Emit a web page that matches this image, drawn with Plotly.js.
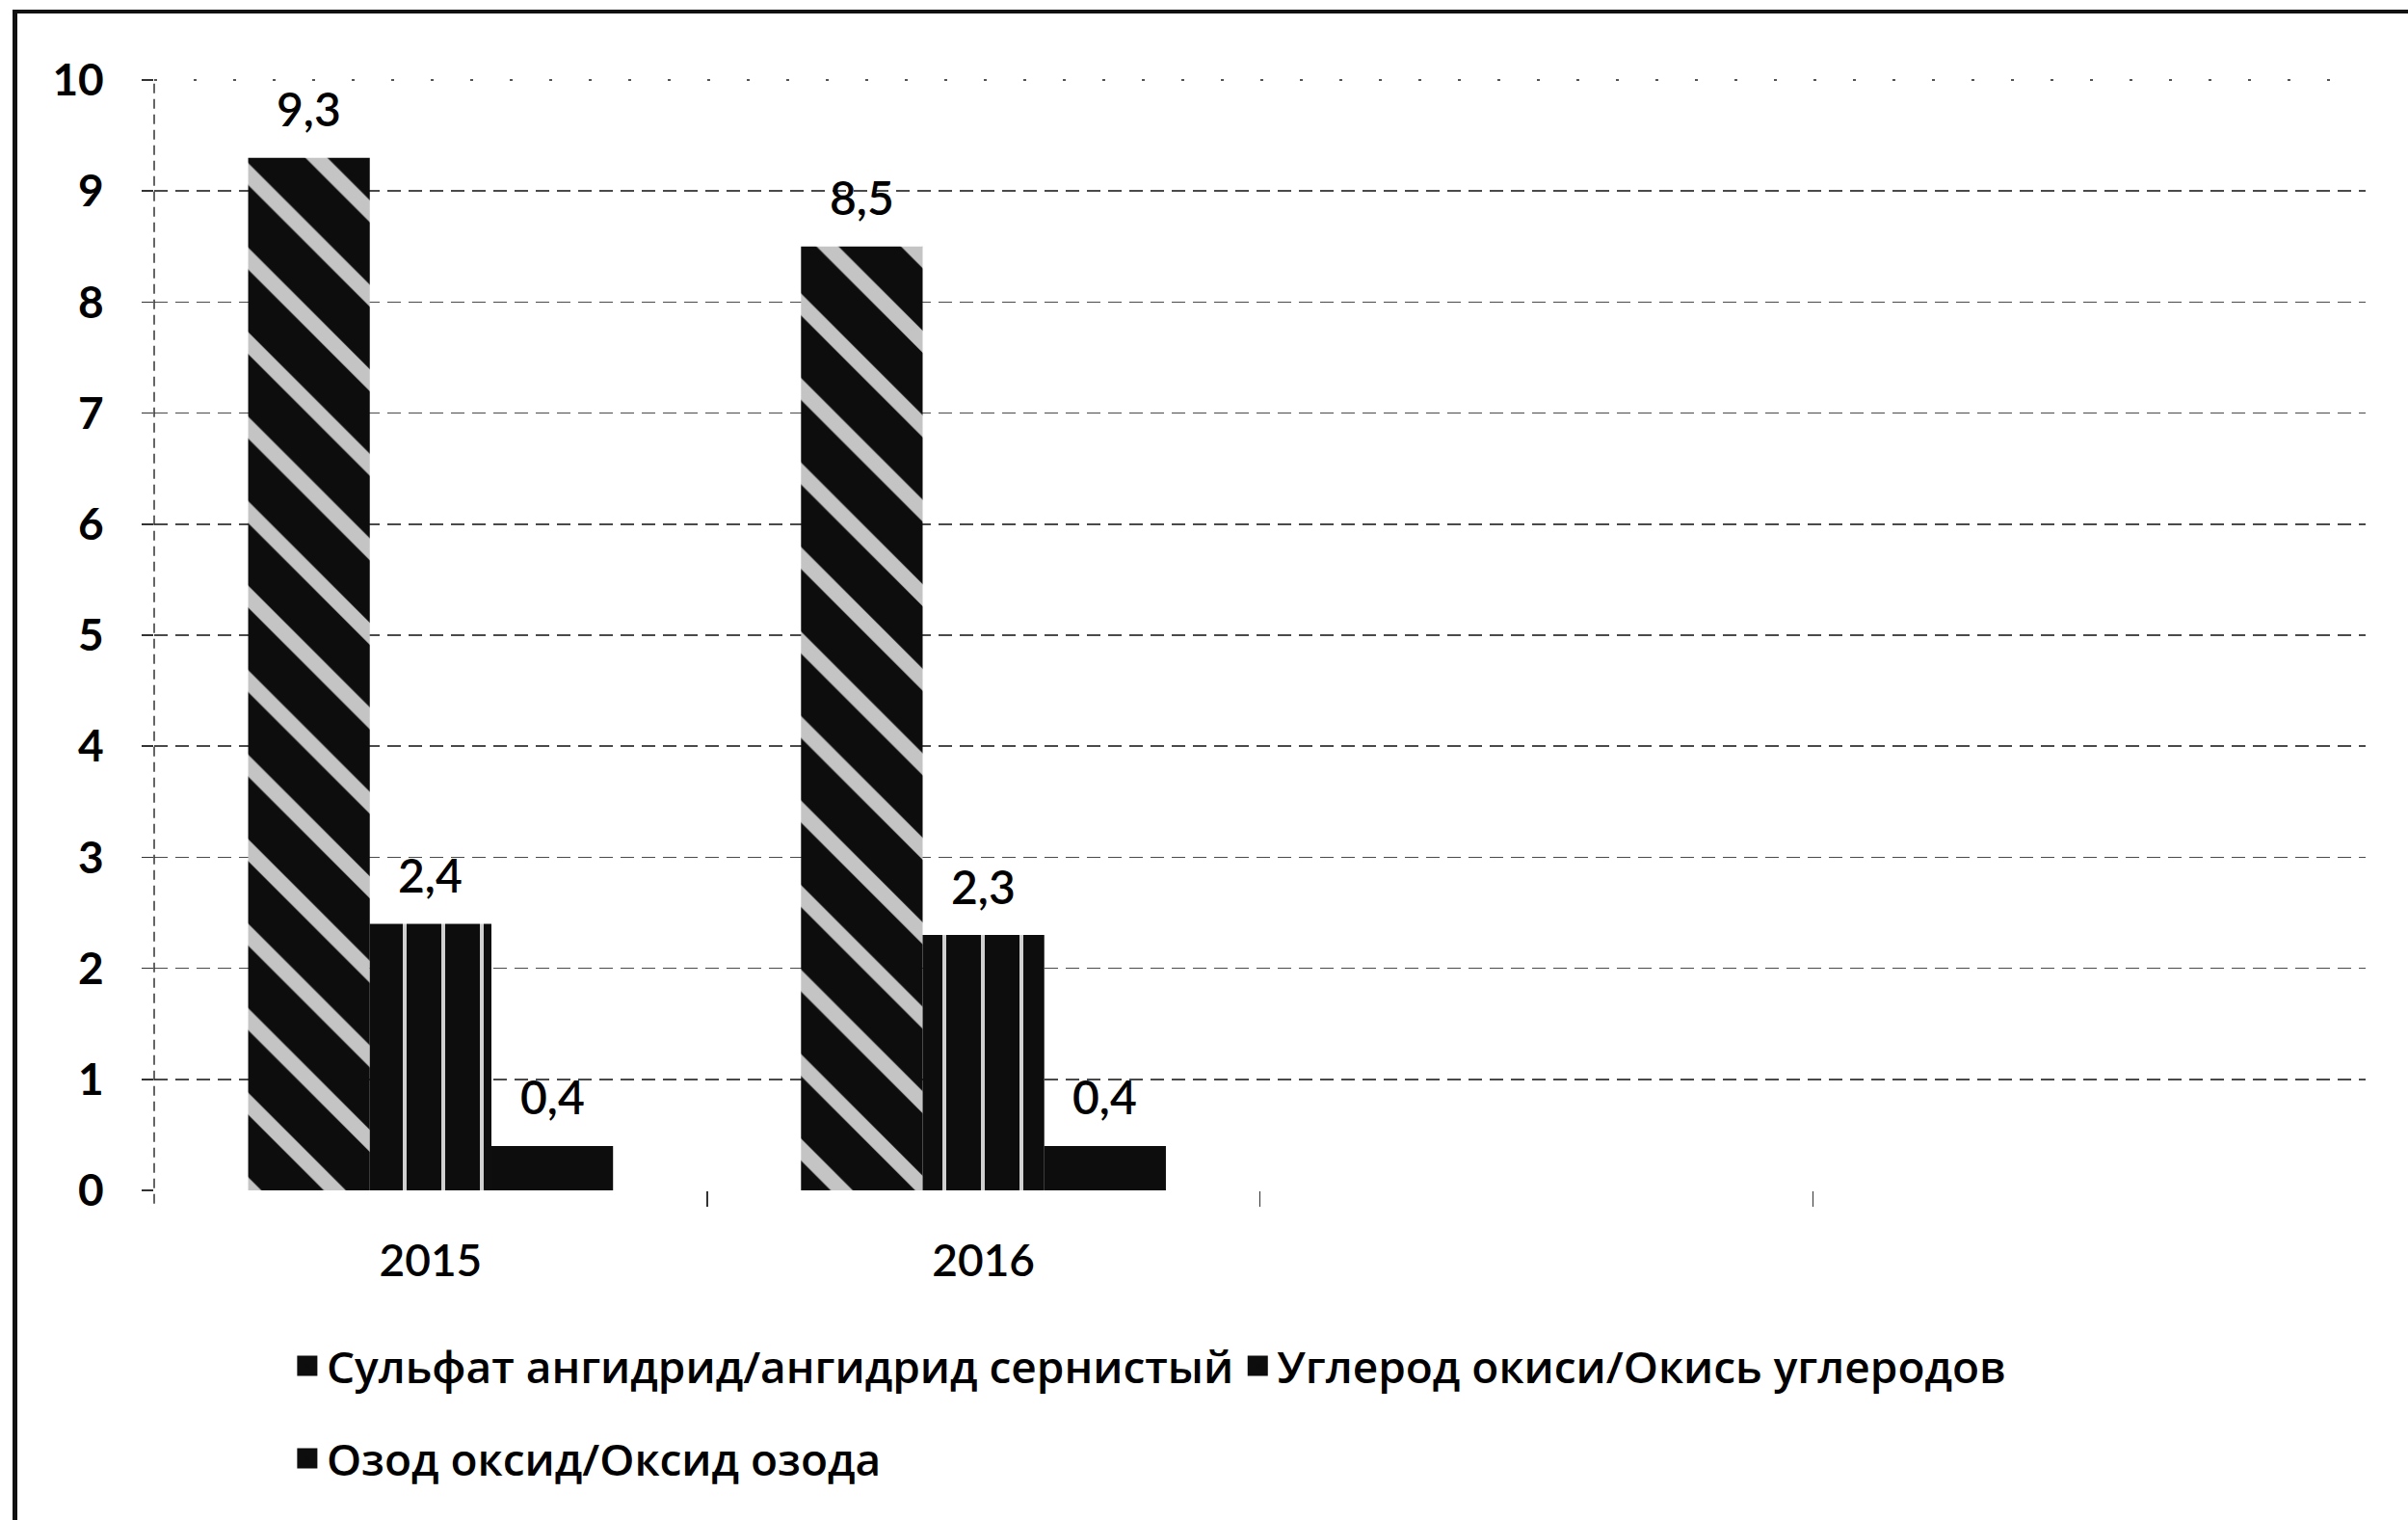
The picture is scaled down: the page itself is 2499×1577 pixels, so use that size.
<!DOCTYPE html>
<html>
<head>
<meta charset="utf-8">
<script src="https://cdn.plot.ly/plotly-3.0.1.min.js"></script>
<style>
html,body{margin:0;padding:0;background:#fff;overflow:hidden;}
#chart{width:2499px;height:1577px;}
#frame{position:absolute;left:13px;top:10px;width:2530px;height:1620px;border-left:5px solid #111;border-top:4px solid #111;pointer-events:none;}
/* Excel-like solid legend keys */
.legendpoints path{fill:#0d0d0d !important;stroke:#0d0d0d !important;stroke-width:9px !important;}
</style>
</head>
<body>
<div id="chart"></div>
<div id="frame"></div>
<script>
// ---- data ----
const years = [2015, 2016];
const yearLabels = ["2015", "2016"];
const seriesNames = [
  "Сульфат ангидрид/ангидрид сернистый",
  "Углерод окиси/Окись углеродов",
  "Озод оксид/Оксид озода"
];
const sulfurValues = [9.3, 8.5];
const carbonValues = [2.4, 2.3];
const ozoneValues = [0.4, 0.4];
const yTickValues = [0, 1, 2, 3, 4, 5, 6, 7, 8, 9, 10];
const categoryBoundaries = [2015.5, 2016.5, 2017.5];

// ---- styling ----
const FONT = "'Open Sans', Lato, sans-serif";
const NUMFONT = "Lato, 'Open Sans', sans-serif";
const BARGAP = 0.34;
const seriesValues = [sulfurValues, carbonValues, ozoneValues];
const patterns = [
  {shape: "\\", bgcolor: "#0d0d0d", fgcolor: "#c4c4c4", size: 62, solidity: 0.26},
  {shape: "|", bgcolor: "#0d0d0d", fgcolor: "#d0d0d0", size: 40, solidity: 0.1},
  {shape: ""}
];

const traces = seriesValues.map((vals, i) => ({
  type: "bar",
  x: years,
  y: vals,
  name: seriesNames[i],
  legend: i < 2 ? "legend" : "legend2",
  marker: {color: "#0d0d0d", pattern: patterns[i], line: {width: 0}},
  hoverinfo: "skip"
}));

const n = seriesValues.length;
const w = (1 - BARGAP) / n;
const annotations = [];
seriesValues.forEach((vals, i) => vals.forEach((v, j) => {
  annotations.push({
    x: years[j] + (i - (n - 1) / 2) * w,
    y: v,
    xref: "x", yref: "y",
    text: v.toFixed(1).replace(".", ","),
    showarrow: false,
    yanchor: "middle",
    yshift: 51,
    font: {family: NUMFONT, size: 48, color: "#000", weight: 600}
  });
}));

const layout = {
  width: 2499, height: 1577,
  margin: {l: 160, r: 44, t: 83, b: 342},
  paper_bgcolor: "#fff", plot_bgcolor: "#fff",
  font: {family: FONT, size: 46, color: "#000"},
  barmode: "group", bargap: BARGAP, bargroupgap: 0,
  xaxis: {
    type: "linear", range: [2014.5, 2018.5],
    tickmode: "array", tickvals: years, ticktext: yearLabels,
    ticks: "", showgrid: false, zeroline: false, showline: false,
    ticklabelstandoff: 42, tickfont: {family: NUMFONT, size: 46, color: "#000", weight: 600},
    minor: {tickmode: "array", tickvals: categoryBoundaries, ticks: "outside",
            ticklen: 16, tickwidth: 1.5, tickcolor: "#333", showgrid: false},
    fixedrange: true
  },
  yaxis: {
    range: [0, 10], tickmode: "array", tickvals: yTickValues,
    ticks: "outside", ticklen: 12, tickwidth: 1.5, tickcolor: "#333",
    showgrid: true, gridcolor: "#4a4a4a", gridwidth: 1.5, griddash: "14px,8px",
    zeroline: false, showline: false,
    ticklabelstandoff: 30, tickfont: {family: NUMFONT, size: 46, color: "#000", weight: 700},
    fixedrange: true
  },
  shapes: [
    {type: "line", xref: "paper", yref: "paper", x0: 0, x1: 0, y0: -0.012, y1: 1,
     line: {color: "#333", width: 1.5, dash: "10px,6px"}},
    {type: "line", xref: "paper", yref: "paper", x0: 0, x1: 1, y0: 1, y1: 1,
     line: {color: "#555", width: 2, dash: "3px,38px"}}
  ],
  legend: {
    orientation: "h", xref: "container", yref: "container",
    x: 0.1196, y: 1 - 1417 / 1577, xanchor: "left", yanchor: "middle",
    font: {family: FONT, size: 46, color: "#000", weight: 600}, bgcolor: "rgba(0,0,0,0)"
  },
  legend2: {
    orientation: "h", xref: "container", yref: "container",
    x: 0.1196, y: 1 - 1513 / 1577, xanchor: "left", yanchor: "middle",
    font: {family: FONT, size: 46, color: "#000", weight: 600}, bgcolor: "rgba(0,0,0,0)"
  },
  annotations: annotations,
  showlegend: true
};

Plotly.newPlot("chart", traces, layout, {displayModeBar: false, staticPlot: true});
</script>
</body>
</html>
